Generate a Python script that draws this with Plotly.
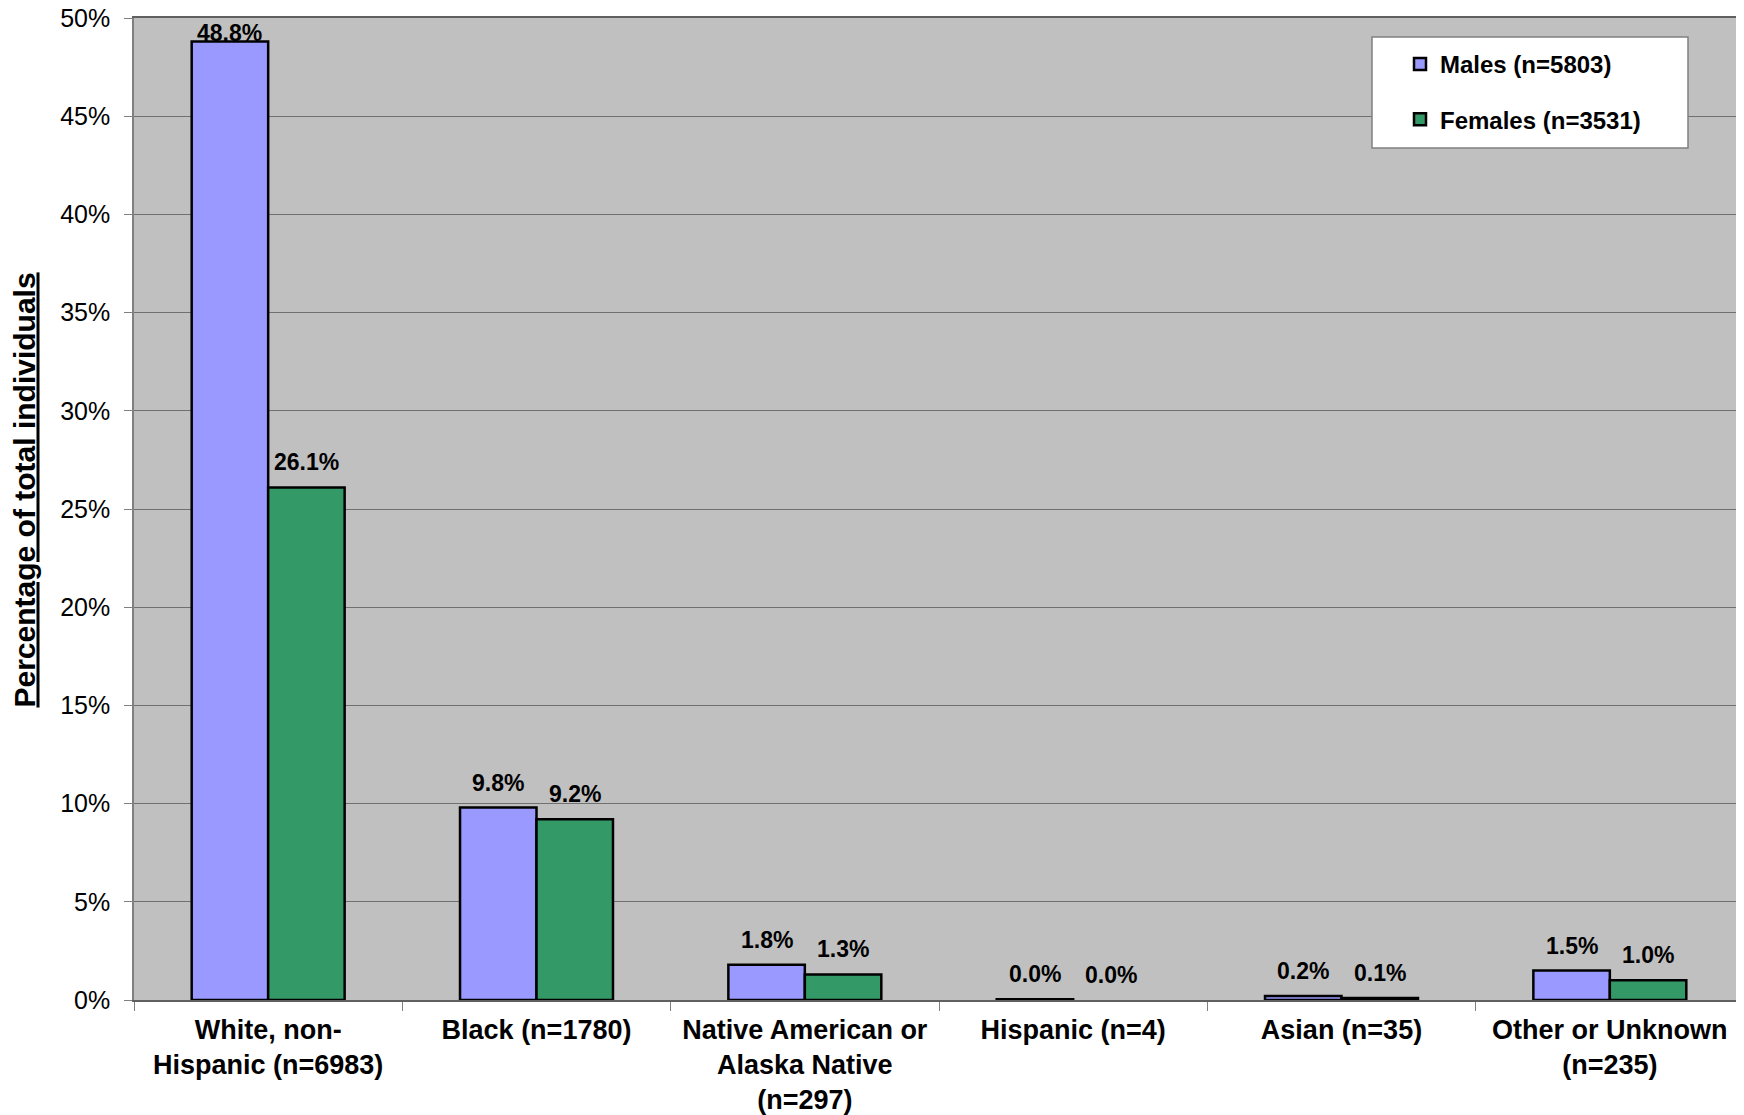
import plotly.graph_objects as go

categories = [
    "White, non-<br>Hispanic (n=6983)",
    "Black (n=1780)",
    "Native American or<br>Alaska Native<br>(n=297)",
    "Hispanic (n=4)",
    "Asian (n=35)",
    "Other or Unknown<br>(n=235)",
]
males = [48.8, 9.8, 1.8, 0.04, 0.2, 1.5]
females = [26.1, 9.2, 1.3, 0.0, 0.1, 1.0]
male_name = "Males (n=5803)"
female_name = "Females (n=3531)"
y_title = "<u>Percentage of total individuals</u>"

W, H = 1744, 1115
L, R, T, B = 126, 8, 10, 123
FONT = "Liberation Sans, Arial, sans-serif"
BARGAP = 0.43
YMAX = 50

pw = W - L - R
ph = H - T - B
cat_px = pw / len(categories)
bar_px = cat_px * (1 - BARGAP) / 2
px_per_unit = ph / YMAX

def px(s):  # screen x -> paper
    return (s - 8 - L) / pw
def py(s):  # screen y -> paper
    return (H - B - (s - 8)) / ph

fig = go.Figure()
series = [(male_name, males, "#9999FF", -1), (female_name, females, "#339966", 1)]
annotations = []
for name, vals, col, side in series:
    fig.add_trace(go.Bar(
        x=categories, y=vals, name=name, legendgroup=name,
        marker=dict(color=col,
                    line=dict(color="black", width=[2.5 if v > 0 else 0 for v in vals])),
        hoverinfo="x+y+name",
    ))
    for c, v in zip(categories, vals):
        label_h = 30 / px_per_unit
        shift = 10 / px_per_unit
        if v + shift + label_h > YMAX:
            ay, anchor, ys = YMAX, "top", 0
        else:
            ay, anchor, ys = v, "bottom", 10
        annotations.append(dict(
            x=c, y=ay, xref="x", yref="y", text=f"{v:.1f}%", showarrow=False,
            xanchor="center", yanchor=anchor, xshift=side * bar_px / 2, yshift=ys,
            font=dict(family=FONT, size=23, color="black", weight="bold"),
        ))

annotations.append(dict(
    x=px(24.5), y=py(490), xref="paper", yref="paper", text=y_title, showarrow=False,
    textangle=-90, xanchor="center", yanchor="middle",
    font=dict(family=FONT, size=30, color="black", weight="bold"),
))

fig.add_shape(type="rect", xref="paper", yref="paper",
              x0=px(1372), x1=px(1688), y0=py(148), y1=py(37),
              fillcolor="white", line=dict(color="#808080", width=1.5), layer="above")

fig.update_layout(
    width=W, height=H,
    margin=dict(l=L, r=R, t=T, b=B, pad=0, autoexpand=False),
    paper_bgcolor="white", plot_bgcolor="#C0C0C0",
    barmode="group", bargap=BARGAP, bargroupgap=0,
    font=dict(family=FONT, color="black"),
    showlegend=True,
    annotations=annotations,
    legend=dict(x=px(1400), y=py(42), xanchor="left", yanchor="top",
                bgcolor="rgba(0,0,0,0)", borderwidth=0,
                font=dict(family=FONT, size=24, color="black", weight="bold"),
                tracegroupgap=21, traceorder="grouped"),
    xaxis=dict(showline=True, linecolor="#606060", linewidth=1.5, mirror=True,
               automargin=False,
               ticks="outside", tickson="boundaries", ticklen=9, tickcolor="#808080",
               ticklabelstandoff=5,
               tickfont=dict(family=FONT, size=27, color="black", weight="bold"),
               range=[-0.5, 5.5], showgrid=False),
    yaxis=dict(range=[0, YMAX], dtick=5, ticksuffix="%", automargin=False,
               showline=True, linecolor="#808080", linewidth=1.5,
               ticks="outside", ticklen=8, tickcolor="#808080",
               ticklabelstandoff=9, ticklabeloverflow="allow",
               showgrid=True, gridcolor="#707070", gridwidth=1.2,
               tickfont=dict(family=FONT, size=25, color="black"),
               zeroline=False),
)

fig.write_html("out.html")
